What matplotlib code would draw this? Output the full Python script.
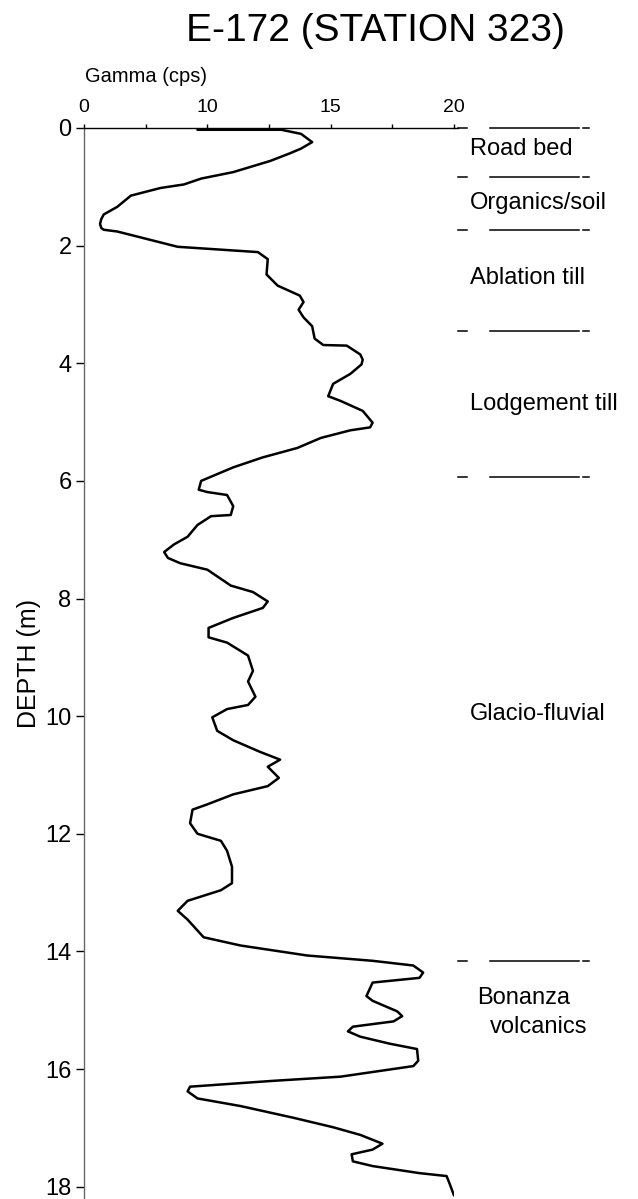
import numpy as np
import matplotlib
matplotlib.use('Agg')
import matplotlib.pyplot as plt

plt.rcParams['font.family'] = ['Liberation Sans', 'DejaVu Sans']

# gamma log: depth (m) and count rate (cps)
depth = [0.03, 0.03, 0.10, 0.24, 0.35, 0.43, 0.56, 0.75, 0.86, 0.96,
         1.02, 1.15, 1.34, 1.47, 1.55, 1.63, 1.70, 1.73, 1.76, 2.02,
         2.11, 2.23, 2.49, 2.68, 2.85, 2.96, 3.09, 3.22, 3.37, 3.58,
         3.69, 3.70, 3.85, 3.94, 4.02, 4.18, 4.35, 4.56, 4.64, 4.81,
         5.01, 5.09, 5.14, 5.27, 5.44, 5.60, 5.77, 6.00, 6.15, 6.19,
         6.24, 6.43, 6.58, 6.60, 6.75, 6.95, 7.08, 7.21, 7.31, 7.40,
         7.51, 7.78, 7.89, 8.05, 8.16, 8.33, 8.50, 8.66, 8.75, 8.97,
         9.23, 9.41, 9.67, 9.81, 9.88, 10.02, 10.25, 10.41, 10.61, 10.74,
         10.86, 11.05, 11.19, 11.33, 11.50, 11.59, 11.82, 12.00, 12.12, 12.29,
         12.56, 12.84, 12.96, 13.14, 13.31, 13.46, 13.76, 13.90, 14.07, 14.16,
         14.24, 14.36, 14.45, 14.53, 14.76, 14.84, 15.02, 15.10, 15.19, 15.28,
         15.36, 15.45, 15.57, 15.66, 15.86, 15.95, 16.13, 16.20, 16.30, 16.38,
         16.50, 16.63, 16.83, 16.99, 17.12, 17.27, 17.37, 17.45, 17.57, 17.65,
         17.77, 17.82, 17.98, 18.15]
gamma = [9.6, 13.0, 13.8, 14.25, 13.8, 13.35, 12.55, 11.05, 9.75, 9.05,
         8.1, 6.9, 6.35, 5.8, 5.7, 5.65, 5.7, 5.8, 6.35, 8.8,
         12.05, 12.45, 12.4, 12.85, 13.75, 13.9, 13.7, 13.9, 14.25, 14.35,
         14.7, 15.65, 16.2, 16.3, 16.25, 15.8, 15.1, 14.9, 15.4, 16.3,
         16.7, 16.6, 15.8, 14.6, 13.65, 12.25, 11.05, 9.75, 9.65, 10.0,
         10.8, 11.05, 10.95, 10.15, 9.6, 9.2, 8.65, 8.25, 8.4, 8.9,
         10.0, 10.95, 11.85, 12.45, 12.25, 11.05, 10.05, 10.05, 10.8, 11.65,
         11.85, 11.65, 11.95, 11.65, 10.8, 10.2, 10.4, 11.05, 12.15, 12.95,
         12.45, 12.9, 12.45, 11.05, 10.0, 9.4, 9.3, 9.6, 10.55, 10.8,
         11.0, 11.0, 10.55, 9.2, 8.8, 9.2, 9.85, 11.35, 14.05, 16.7,
         18.35, 18.75, 18.6, 16.7, 16.45, 16.7, 17.7, 17.9, 17.55, 15.9,
         15.7, 16.2, 17.4, 18.5, 18.55, 18.35, 15.4, 12.7, 9.3, 9.2,
         9.6, 11.35, 13.5, 15.1, 16.2, 17.1, 16.7, 15.85, 15.9, 16.7,
         18.6, 19.7, 19.85, 20.0]

# units and their boundaries
layer_names = ['Road bed', 'Organics/soil', 'Ablation till', 'Lodgement till',
               'Glacio-fluvial', 'Bonanza', 'volcanics']
layer_depth = [0.35, 1.28, 2.55, 4.69, 9.97, 14.79, 15.28]
layer_x = [20.64, 20.64, 20.64, 20.64, 20.64, 20.92, 21.45]
boundaries = [0.0, 0.83, 1.74, 3.45, 5.93, 14.16]

xticks = [5, 7.5, 10, 12.5, 15, 17.5, 20]
xticklabels = ['0', '', '10', '', '15', '', '20']
yticks = list(range(0, 19, 2))

fig = plt.figure(figsize=(6.38, 11.99), dpi=100)
ax = fig.add_axes([84 / 638, 0, 370 / 638, 1071 / 1199])

ax.plot(gamma, depth, color='black', lw=1.8, solid_joinstyle='round',
        solid_capstyle='round')
ax.set_xlim(5, 20)
ax.set_ylim(18.21, 0)

ax.spines['right'].set_visible(False)
ax.spines['bottom'].set_visible(False)
ax.spines['left'].set_color('#666666')
ax.spines['left'].set_linewidth(1.0)
ax.spines['top'].set_linewidth(1.0)

ax.xaxis.tick_top()
ax.set_xticks(xticks)
ax.set_xticklabels(xticklabels, fontsize=14)
ax.tick_params(axis='x', direction='out', length=3, width=1, pad=6)
ax.set_yticks(yticks)
ax.set_yticklabels([str(t) for t in yticks], fontsize=17)
ax.tick_params(axis='y', direction='out', length=6, width=1, pad=3)

ax.set_ylabel('DEPTH (m)', fontsize=18)
ax.yaxis.set_label_coords(-0.116, 0.5)

# dashed boundary marks to the right of the log
for d in boundaries:
    ax.plot([20.15, 20.52], [d, d], color='black', lw=1.1, clip_on=False)
    ax.plot([21.44, 25.08], [d, d], color='black', lw=1.1, clip_on=False)
    ax.plot([25.24, 25.48], [d, d], color='black', lw=1.1, clip_on=False)
ax.plot([20, 20.15], [0, 0], color='black', lw=1.0, clip_on=False)

for name, d, x in zip(layer_names, layer_depth, layer_x):
    ax.text(x, d, name, fontsize=17, ha='left', va='center', clip_on=False)

fig.text(375 / 638, 1 - 31 / 1199, 'E-172 (STATION 323)', ha='center',
         va='center', fontsize=28)
fig.text(85 / 638, 1 - 77 / 1199, 'Gamma (cps)', ha='left', va='center',
         fontsize=14.5)

fig.savefig('out.png', dpi=100)
